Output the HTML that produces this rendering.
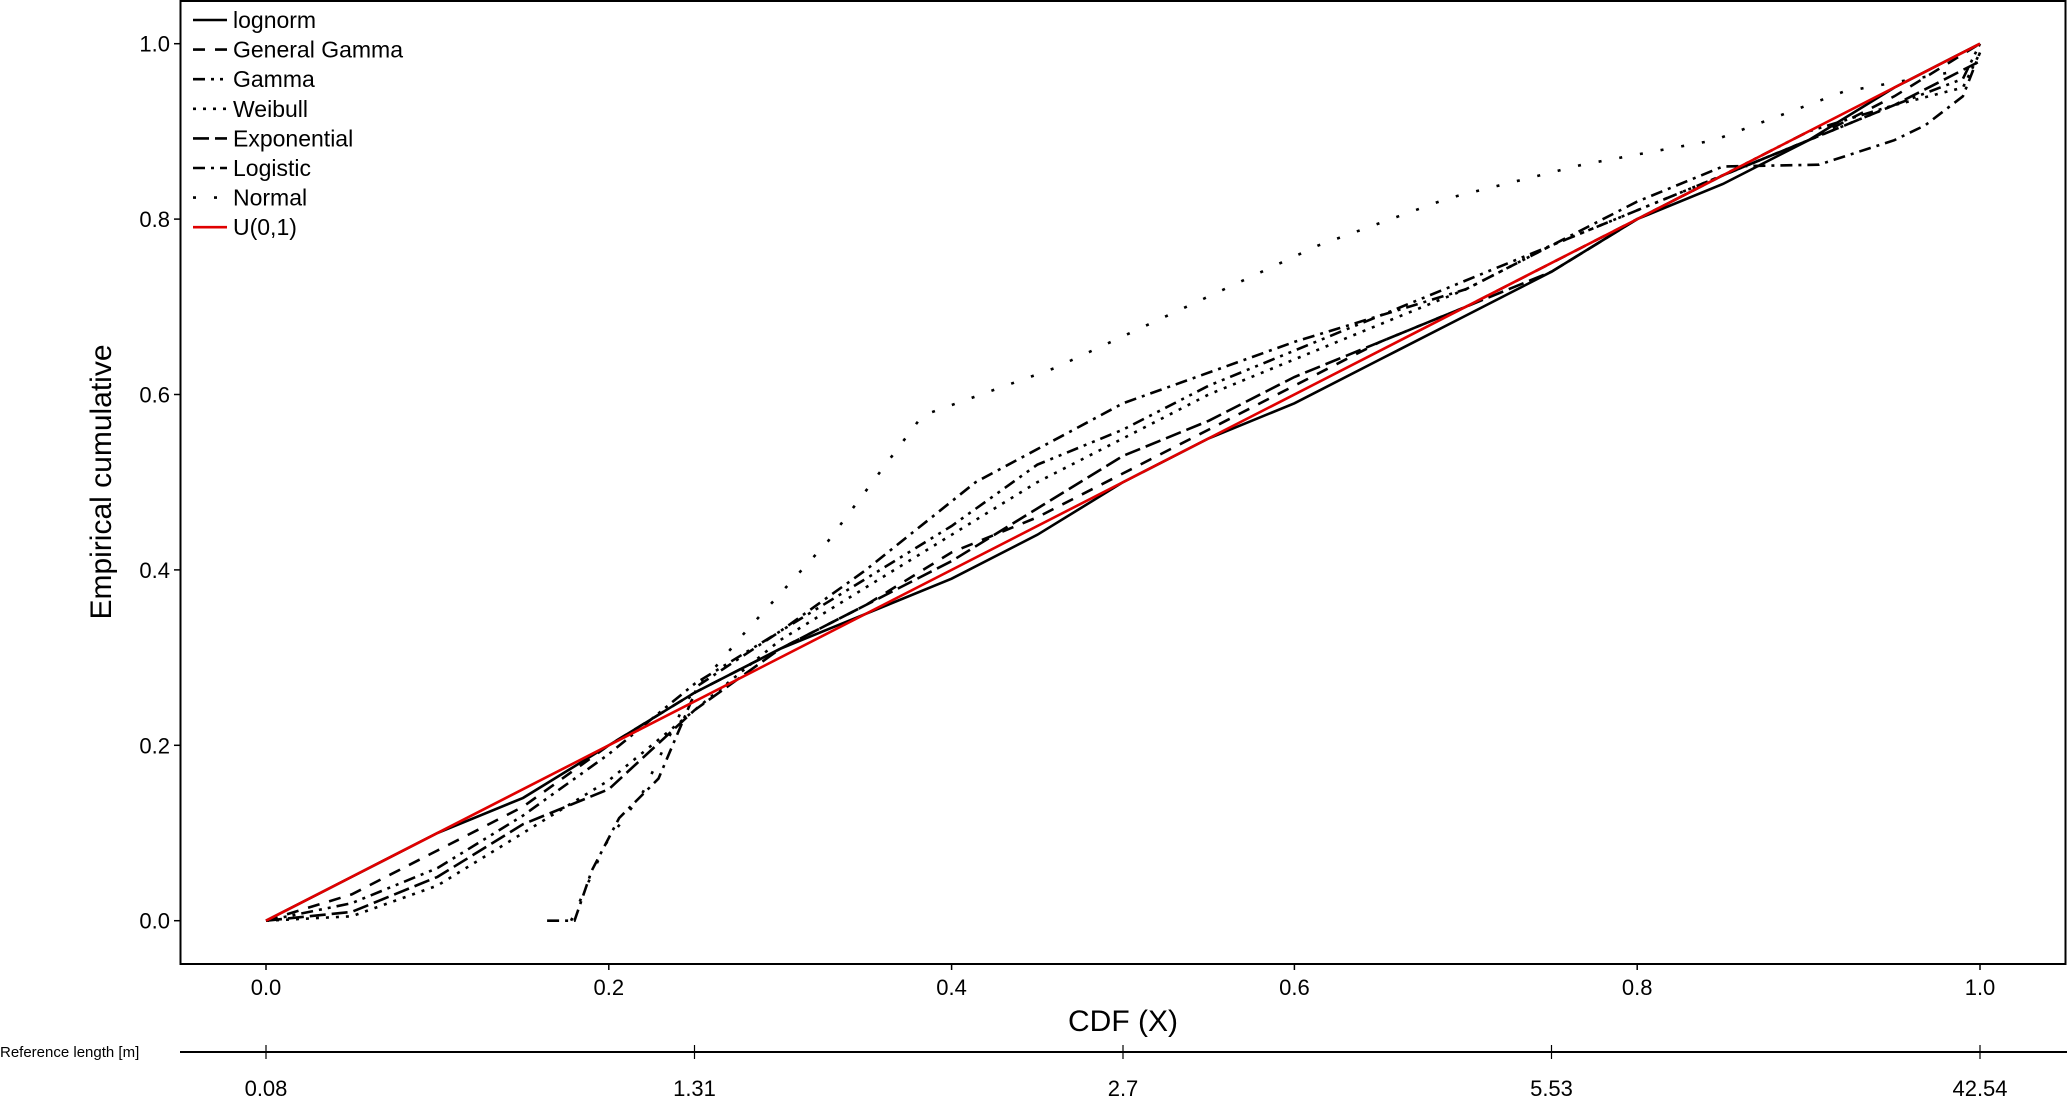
<!DOCTYPE html>
<html><head><meta charset="utf-8"><style>
html,body{margin:0;padding:0;background:#fff;}
svg{display:block;font-family:"Liberation Sans",sans-serif;}
</style></head><body>
<svg id="chart" width="2067" height="1097" viewBox="0 0 2067 1097" xmlns="http://www.w3.org/2000/svg">
<rect x="180.5" y="1" width="1885" height="963" fill="none" stroke="#000" stroke-width="2"/>
<g id="marks"></g>
<g id="axes"></g>
<g id="legend"></g>
<text x="111" y="482" font-size="30" text-anchor="middle" transform="rotate(-90 111 482)">Empirical cumulative</text>
<text x="1123" y="1031" font-size="30" text-anchor="middle">CDF (X)</text>
<text x="0" y="1057" font-size="15">Reference length [m]</text>
<line x1="180" y1="1052" x2="2067" y2="1052" stroke="#000" stroke-width="2"/>
</svg>
<script>
const xTicks=[0,0.2,0.4,0.6,0.8,1.0];
const xTickLabels=["0.0","0.2","0.4","0.6","0.8","1.0"];
const yTicks=[0,0.2,0.4,0.6,0.8,1.0];
const yTickLabels=["0.0","0.2","0.4","0.6","0.8","1.0"];
const refTicks=[0,0.25,0.5,0.75,1.0];
const refTickLabels=["0.08","1.31","2.7","5.53","42.54"];
const seriesNames=["lognorm","General Gamma","Gamma","Weibull","Exponential","Logistic","Normal","U(0,1)"];
const lognormX=[0,0.05,0.1,0.15,0.2,0.25,0.3,0.35,0.4,0.45,0.5,0.55,0.6,0.65,0.7,0.75,0.8,0.85,0.9,0.95,0.98,1];
const lognormY=[0,0.05,0.1,0.14,0.2,0.26,0.31,0.35,0.39,0.44,0.5,0.55,0.59,0.64,0.69,0.74,0.8,0.84,0.89,0.95,0.98,1];
const genGammaX=[0,0.05,0.1,0.15,0.2,0.25,0.3,0.35,0.4,0.45,0.5,0.55,0.6,0.65,0.7,0.75,0.8,0.85,0.9,0.95,1];
const genGammaY=[0,0.03,0.08,0.13,0.2,0.26,0.31,0.36,0.42,0.46,0.51,0.56,0.61,0.66,0.7,0.75,0.8,0.85,0.89,0.94,1];
const gammaX=[0,0.05,0.1,0.15,0.2,0.25,0.3,0.35,0.4,0.45,0.5,0.55,0.6,0.65,0.7,0.75,0.8,0.85,0.9,0.95,0.99,1];
const gammaY=[0,0.02,0.06,0.12,0.19,0.27,0.33,0.39,0.45,0.52,0.56,0.61,0.65,0.69,0.73,0.77,0.81,0.85,0.9,0.93,0.96,1];
const weibullX=[0,0.05,0.1,0.15,0.2,0.25,0.3,0.35,0.4,0.45,0.5,0.55,0.6,0.65,0.7,0.75,0.8,0.85,0.9,0.95,0.99,1];
const weibullY=[0,0.005,0.04,0.1,0.16,0.24,0.32,0.38,0.44,0.5,0.55,0.6,0.64,0.68,0.72,0.77,0.81,0.85,0.89,0.93,0.95,0.99];
const expoX=[0,0.05,0.1,0.15,0.2,0.25,0.3,0.35,0.4,0.45,0.5,0.55,0.6,0.65,0.7,0.75,0.8,0.85,0.9,0.95,1];
const expoY=[0,0.01,0.05,0.11,0.15,0.24,0.31,0.36,0.41,0.47,0.53,0.57,0.62,0.66,0.7,0.74,0.8,0.85,0.89,0.93,0.98];
const logisticX=[0.164,0.18,0.19,0.206,0.229,0.252,0.3,0.35,0.414,0.5,0.6,0.7,0.8,0.85,0.906,0.95,0.968,0.99,1];
const logisticY=[0,0,0.057,0.117,0.162,0.268,0.33,0.4,0.5,0.59,0.66,0.72,0.82,0.86,0.862,0.89,0.907,0.94,0.99];
const normalX=[0.178,0.198,0.22,0.245,0.28,0.328,0.383,0.46,0.537,0.614,0.69,0.768,0.845,0.92,0.99];
const normalY=[0,0.087,0.147,0.25,0.33,0.433,0.576,0.63,0.7,0.77,0.824,0.862,0.89,0.945,0.97];
const uniformX=[0,1];
const uniformY=[0,1];

const NS="http://www.w3.org/2000/svg";
const X0=266,X1=1980,Y0=920.7,Y1=43.7;
function sx(v){return X0+(X1-X0)*v;}
function sy(v){return Y0-(Y0-Y1)*v;}
const marks=document.getElementById('marks');
const axes=document.getElementById('axes');
const legend=document.getElementById('legend');
const styles=[
 {x:lognormX,y:lognormY,c:"#000",d:"",w:2.6},
 {x:genGammaX,y:genGammaY,c:"#000",d:"12 10",w:2.6},
 {x:gammaX,y:gammaY,c:"#000",d:"12 6 3 6 3 6",w:2.6},
 {x:weibullX,y:weibullY,c:"#000",d:"3 7",w:2.6},
 {x:expoX,y:expoY,c:"#000",d:"16 6",w:2.6},
 {x:logisticX,y:logisticY,c:"#000",d:"12 6 3 6",w:2.6},
 {x:normalX,y:normalY,c:"#000",d:"3 18",w:2.6},
 {x:uniformX,y:uniformY,c:"#e00000",d:"",w:2.6}
];
styles.forEach((s,i)=>{
  const p=document.createElementNS(NS,'polyline');
  p.setAttribute('points',s.x.map((v,j)=>sx(v).toFixed(1)+','+sy(s.y[j]).toFixed(1)).join(' '));
  p.setAttribute('fill','none');p.setAttribute('stroke',s.c);p.setAttribute('stroke-width',s.w);
  if(s.d)p.setAttribute('stroke-dasharray',s.d);
  
  
  marks.appendChild(p);
  const ly=20+i*29.6;
  const l=document.createElementNS(NS,'line');
  l.setAttribute('x1',193);l.setAttribute('x2',227);l.setAttribute('y1',ly);l.setAttribute('y2',ly);
  l.setAttribute('stroke',s.c);l.setAttribute('stroke-width',2.6);
  if(s.d)l.setAttribute('stroke-dasharray',s.d);
  
  
  legend.appendChild(l);
  const t=document.createElementNS(NS,'text');
  t.setAttribute('x',233);t.setAttribute('y',ly+8);t.setAttribute('font-size',23);
  t.textContent=seriesNames[i];
  
  
  legend.appendChild(t);
});
xTicks.forEach((v,i)=>{
  const l=document.createElementNS(NS,'line');
  l.setAttribute('x1',sx(v));l.setAttribute('x2',sx(v));l.setAttribute('y1',964);l.setAttribute('y2',970);
  l.setAttribute('stroke','#000');l.setAttribute('stroke-width',1.5);
  
  
  axes.appendChild(l);
  const t=document.createElementNS(NS,'text');
  t.setAttribute('x',sx(v));t.setAttribute('y',995);t.setAttribute('font-size',22);t.setAttribute('text-anchor','middle');
  t.textContent=xTickLabels[i];
  
  
  axes.appendChild(t);
});
yTicks.forEach((v,i)=>{
  const l=document.createElementNS(NS,'line');
  l.setAttribute('x1',174);l.setAttribute('x2',180);l.setAttribute('y1',sy(v));l.setAttribute('y2',sy(v));
  l.setAttribute('stroke','#000');l.setAttribute('stroke-width',1.5);
  
  
  axes.appendChild(l);
  const t=document.createElementNS(NS,'text');
  t.setAttribute('x',170);t.setAttribute('y',sy(v)+8);t.setAttribute('font-size',22);t.setAttribute('text-anchor','end');
  t.textContent=yTickLabels[i];
  
  
  axes.appendChild(t);
});
refTicks.forEach((v,i)=>{
  const l=document.createElementNS(NS,'line');
  l.setAttribute('x1',sx(v));l.setAttribute('x2',sx(v));l.setAttribute('y1',1045);l.setAttribute('y2',1059);
  l.setAttribute('stroke','#000');l.setAttribute('stroke-width',1.2);
  
  
  axes.appendChild(l);
  const t=document.createElementNS(NS,'text');
  t.setAttribute('x',sx(v));t.setAttribute('y',1096);t.setAttribute('font-size',22);t.setAttribute('text-anchor','middle');
  t.textContent=refTickLabels[i];
  
  
  axes.appendChild(t);
});
</script>
</body></html>
